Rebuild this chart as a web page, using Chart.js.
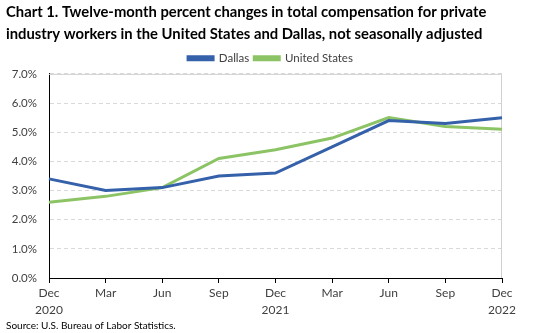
<!DOCTYPE html>
<html>
<head>
<meta charset="utf-8">
<script src="https://cdn.jsdelivr.net/npm/chart.js@4/dist/chart.umd.min.js"></script>
<style>
  html, body { margin: 0; padding: 0; background: #fff; }
  #wrap { width: 535px; height: 333px; }
</style>
</head>
<body>
<div id="wrap"><canvas id="my-chart" width="535" height="333"></canvas></div>
<script>
var months = [['Dec', '2020'], 'Mar', 'Jun', 'Sep', ['Dec', '2021'], 'Mar', 'Jun', 'Sep', ['Dec', '2022']];
var dallas = [3.4, 3.0, 3.1, 3.5, 3.6, 4.5, 5.4, 5.3, 5.5];
var unitedStates = [2.6, 2.8, 3.1, 4.1, 4.4, 4.8, 5.5, 5.2, 5.1];

var FONT = 'Lato, "Open Sans", sans-serif';

// light grey frame on the top and right of the plot area
var plotFrame = {
  id: 'plotFrame',
  beforeDatasetsDraw: function(chart) {
    var a = chart.chartArea, ctx = chart.ctx;
    ctx.save();
    ctx.strokeStyle = '#d0d0d0';
    ctx.lineWidth = 1;
    ctx.beginPath();
    ctx.moveTo(a.left, a.top + 0.5);
    ctx.lineTo(a.right - 0.5, a.top + 0.5);
    ctx.lineTo(a.right - 0.5, a.bottom);
    ctx.stroke();
    ctx.restore();
  }
};

var generate = function() {
  return {
    type: 'line',
    data: {
      labels: months,
      datasets: [
        { label: 'Dallas', data: dallas, borderColor: '#3461a9', backgroundColor: '#3461a9',
          borderWidth: 3, pointRadius: 0, tension: 0 },
        { label: 'United States', data: unitedStates, borderColor: '#8cc465', backgroundColor: '#8cc465',
          borderWidth: 3, pointRadius: 0, tension: 0 }
      ]
    },
    options: {
      responsive: false,
      animation: false,
      layout: { padding: { left: 6, right: 0, top: 1, bottom: 1 } },
      plugins: {
        title: {
          display: true,
          align: 'start',
          text: ['Chart 1. Twelve-month percent changes in total compensation for private',
                 'industry workers in the United States and Dallas, not seasonally adjusted'],
          color: '#000',
          font: { family: FONT, size: 14.8, weight: 'bold', lineHeight: 1.5 },
          padding: { top: 0, bottom: 2 }
        },
        subtitle: {
          display: true,
          position: 'bottom',
          align: 'start',
          text: 'Source: U.S. Bureau of Labor Statistics.',
          color: '#000',
          font: { family: FONT, size: 10, lineHeight: 1.2 },
          padding: { top: 2, bottom: 0 }
        },
        legend: {
          labels: {
            boxWidth: 25, boxHeight: 3, padding: 5,
            color: '#404040',
            font: { family: FONT, size: 11.5 }
          }
        },
        tooltip: { enabled: false }
      },
      scales: {
        x: {
          offset: false,
          afterFit: function(scale) { scale.height = 40; },
          grid: { drawOnChartArea: false, drawTicks: true, tickLength: 5, tickColor: '#000' },
          border: { color: '#000', width: 1 },
          ticks: { color: '#404040', font: { family: FONT, size: 12, lineHeight: 1.4 }, padding: 2,
                   maxRotation: 0, autoSkip: false }
        },
        y: {
          min: 0, max: 7,
          afterFit: function(scale) { scale.width = 43; },
          grid: { color: '#d9d9d9', drawTicks: false },
          border: { color: '#000', width: 1, dash: [4, 3] },
          ticks: { stepSize: 1, padding: 12, color: '#404040', font: { family: FONT, size: 11.5 },
                   callback: function(v) { return v.toFixed(1) + '%'; } }
        },
        // empty axis that keeps room on the right of the plot
        yRight: {
          position: 'right',
          afterFit: function(scale) { scale.width = 33; },
          grid: { display: false },
          border: { display: false },
          ticks: { display: false }
        }
      }
    },
    plugins: [plotFrame]
  };
};

var ctx = document.getElementById('my-chart');
var myChart = new Chart(ctx, generate());
</script>
</body>
</html>
